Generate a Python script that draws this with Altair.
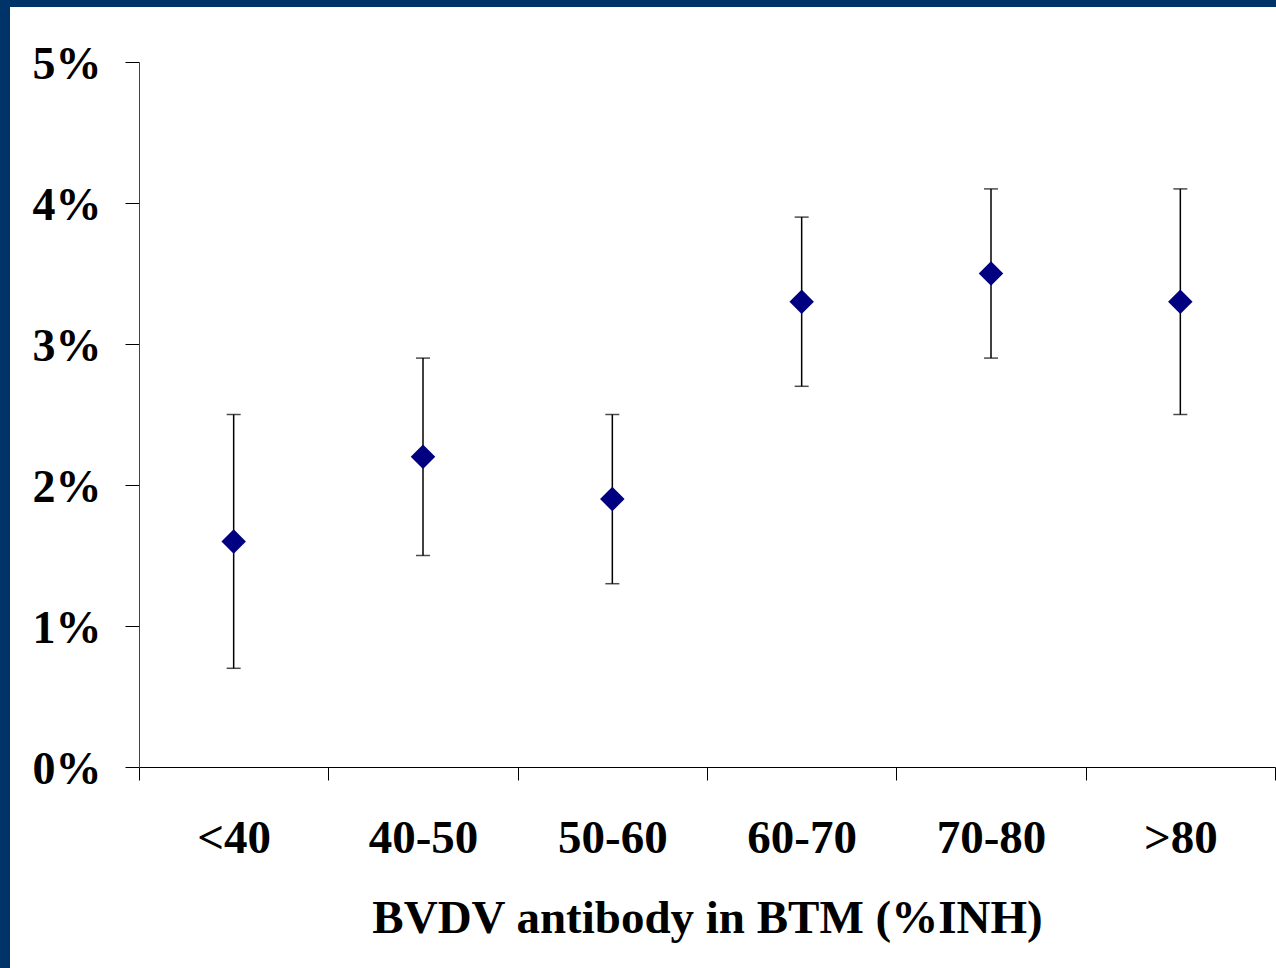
import altair as alt
import pandas as pd

categories = ["<40", "40-50", "50-60", "60-70", "70-80", ">80"]
values = [1.6, 2.2, 1.9, 3.3, 3.5, 3.3]
lower = [0.7, 1.5, 1.3, 2.7, 2.9, 2.5]
upper = [2.5, 2.9, 2.5, 3.9, 4.1, 4.1]
y_ticks = [0, 1, 2, 3, 4, 5]

df = pd.DataFrame({"cat": categories, "val": values, "lo": lower, "hi": upper})

W, H = 1136, 705
FONT = "Liberation Serif"

x = alt.X("cat:N", sort=categories,
          scale=alt.Scale(paddingInner=0, paddingOuter=0),
          axis=alt.Axis(title="BVDV antibody in BTM (%INH)", labelAngle=0,
                        tickBand="extent", tickSize=13, tickColor="black",
                        domainColor="black", labelFont=FONT, labelFontSize=47,
                        labelFontWeight="bold", labelColor="black", labelPadding=35,
                        titleFont=FONT, titleFontSize=47, titleFontWeight="bold",
                        titleColor="black", titlePadding=34, zindex=1))
yscale = alt.Scale(domain=[0, 5], nice=False)
yaxis = alt.Axis(title=None, values=y_ticks, labelExpr="datum.value + '%'",
                 tickSize=14, tickColor="black", domainColor="#444444",
                 labelFont=FONT, labelFontSize=46, labelFontWeight="bold",
                 labelColor="black", labelPadding=24, labelOffset=2,
                 grid=False, zindex=1)

base = alt.Chart(df)

bg = base.mark_rect(color="white").encode(
    x=alt.value(-129), x2=alt.value(1137), y=alt.value(-55), y2=alt.value(906)
).transform_filter("datum.cat == '<40'")

rules = base.mark_rule(color="black", strokeWidth=1.5).encode(
    x=x, y=alt.Y("lo:Q", scale=yscale, axis=yaxis), y2="hi:Q")
caps_lo = base.mark_tick(color="black", orient="horizontal", size=14, thickness=1.5).encode(
    x=alt.X("cat:N", sort=categories), y=alt.Y("lo:Q", scale=yscale))
caps_hi = base.mark_tick(color="black", orient="horizontal", size=14, thickness=1.5).encode(
    x=alt.X("cat:N", sort=categories), y=alt.Y("hi:Q", scale=yscale))
points = base.mark_point(shape="diamond", filled=True, color="#000080", size=600, opacity=1).encode(
    x=alt.X("cat:N", sort=categories), y=alt.Y("val:Q", scale=yscale))

chart = alt.layer(bg, rules, caps_lo, caps_hi, points).properties(
    width=W, height=H,
    background="#003468",
    padding={"left": 139, "top": 62, "right": 1, "bottom": 201},
    autosize=alt.AutoSizeParams(type="none"),
).configure_view(stroke=None)

chart.save("out.html", embed_options={"renderer": "svg", "actions": False})
